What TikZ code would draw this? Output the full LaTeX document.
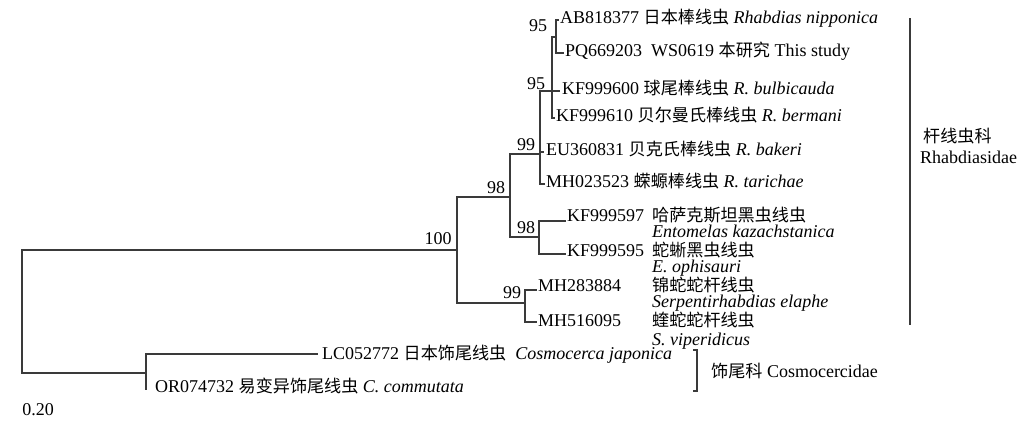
\documentclass[tikz,border=0pt]{standalone}
\usepackage{fontspec}
\setmainfont{Liberation Serif}
\newfontfamily\cjk[Scale=0.95]{Noto Sans CJK SC}
\newcommand\zh[1]{{\cjk #1}}
\definecolor{ln}{HTML}{3A3A3A}
\begin{document}
\begin{tikzpicture}[x=1pt,y=-1pt,
  every node/.style={font=\fontsize{18pt}{21pt}\selectfont, inner sep=0pt, text height=11.9pt, text depth=0pt},
  br/.style={draw=ln, line width=1.2pt},
  lab/.style={anchor=west},
  bs/.style={anchor=center},
  famline/.style={draw=ln, line width=1.2pt}]
\useasboundingbox (0,0) rectangle (1020,423);
% internal nodes
\coordinate (root) at (22,310);
\coordinate (n100) at (457,250);
\coordinate (nC) at (146,373);
\coordinate (n98a) at (510,197);
\coordinate (nS) at (525,303);
\coordinate (n99) at (540,154);
\coordinate (n98b) at (539,237);
\coordinate (n95b) at (552,91);
\coordinate (n95a) at (556,37);
% leaves
\coordinate (ab) at (559,20);
\coordinate (pq) at (564,53);
\coordinate (k600) at (560,91);
\coordinate (k610) at (555,118);
\coordinate (eu) at (544,152);
\coordinate (mh523) at (545,184);
\coordinate (k597) at (566,221);
\coordinate (k595) at (566,254);
\coordinate (mh884) at (537,290);
\coordinate (mh095) at (537,322);
\coordinate (lc) at (318,354);
\coordinate (or) at (147,389);
% branches
\draw[br] (root) |- (n100);
\draw[br] (root) |- (nC);
\draw[br] (n100) |- (n98a);
\draw[br] (n100) |- (nS);
\draw[br] (n98a) |- (n99);
\draw[br] (n98a) |- (n98b);
\draw[br] (n99) |- (n95b);
\draw[br] (n99) |- (eu);
\draw[br] (n99) |- (mh523);
\draw[br] (n95b) |- (n95a);
\draw[br] (n95b) |- (k600);
\draw[br] (n95b) |- (k610);
\draw[br] (n95a) |- (ab);
\draw[br] (n95a) |- (pq);
\draw[br] (n98b) |- (k597);
\draw[br] (n98b) |- (k595);
\draw[br] (nS) |- (mh884);
\draw[br] (nS) |- (mh095);
\draw[br] (nC) |- (lc);
\draw[br] (nC) |- (or);
% leaf labels
\node[lab] (tab) at ([shift={(1,-2)}]ab) {AB818377 \zh{日本棒线虫} \textit{Rhabdias nipponica}};
\node[lab] (tpq) at ([shift={(1,-2)}]pq) {PQ669203\ \ WS0619 \zh{本研究} This study};
\node[lab] (t600) at ([shift={(2,-2)}]k600) {KF999600 \zh{球尾棒线虫} \textit{R. bulbicauda}};
\node[lab] (t610) at ([shift={(1,-2)}]k610) {KF999610 \zh{贝尔曼氏棒线虫} \textit{R. bermani}};
\node[lab] (teu) at ([shift={(2,-2)}]eu) {EU360831 \zh{贝克氏棒线虫} \textit{R. bakeri}};
\node[lab] (t523) at ([shift={(1,-2)}]mh523) {MH023523 \zh{蝾螈棒线虫} \textit{R. tarichae}};
\node[lab] (t597) at ([shift={(1,-5)}]k597) {KF999597};
\node[lab] (t597z) at (652,216) {\zh{哈萨克斯坦黑虫线虫}};
\node[lab] (t597s) at (652,232) {\textit{Entomelas kazachstanica}};
\node[lab] (t595) at ([shift={(1,-3)}]k595) {KF999595};
\node[lab] (t595z) at (652,251) {\zh{蛇蜥黑虫线虫}};
\node[lab] (t595s) at (652,267) {\textit{E. ophisauri}};
\node[lab] (t884) at ([shift={(1,-4)}]mh884) {MH283884};
\node[lab] (t884z) at (652,286) {\zh{锦蛇蛇杆线虫}};
\node[lab] (t884s) at (652,302) {\textit{Serpentirhabdias elaphe}};
\node[lab] (t095) at ([shift={(1,-1)}]mh095) {MH516095};
\node[lab] (t095z) at (652,321) {\zh{蝰蛇蛇杆线虫}};
\node[lab] (t095s) at (652,340) {\textit{S. viperidicus}};
\node[lab] (tlc) at ([shift={(4,0)}]lc) {LC052772 \zh{日本饰尾线虫}\enspace\textit{Cosmocerca japonica}};
\node[lab] (tor) at ([shift={(8,-2)}]or) {OR074732 \zh{易变异饰尾线虫} \textit{C. commutata}};
% bootstrap values
\node[bs] (b95a) at (538,26) {95};
\node[bs] (b95b) at (536,84) {95};
\node[bs] (b99a) at (526,145) {99};
\node[bs] (b98a) at (496,188) {98};
\node[bs] (b98b) at (526,228) {98};
\node[bs] (b100) at (438,239) {100};
\node[bs] (b99b) at (512,293) {99};
% families
\coordinate (rt) at (910,18);
\coordinate (rb) at (910,325);
\draw[famline] (rt) -- (rb);
\node[lab] (rz) at (923,137) {\zh{杆线虫科}};
\node[lab] (rl) at (920,158) {Rhabdiasidae};
\coordinate (ct) at (697,350);
\coordinate (cb) at (697,391);
\draw[famline] ([xshift=-4pt]ct) -- (ct) -- (cb) -- ([xshift=-4pt]cb);
\node[lab] (cl) at (711,372) {\zh{饰尾科} Cosmocercidae};
% scale
\node (sc) at (38,410) {0.20};
\end{tikzpicture}
\end{document}
